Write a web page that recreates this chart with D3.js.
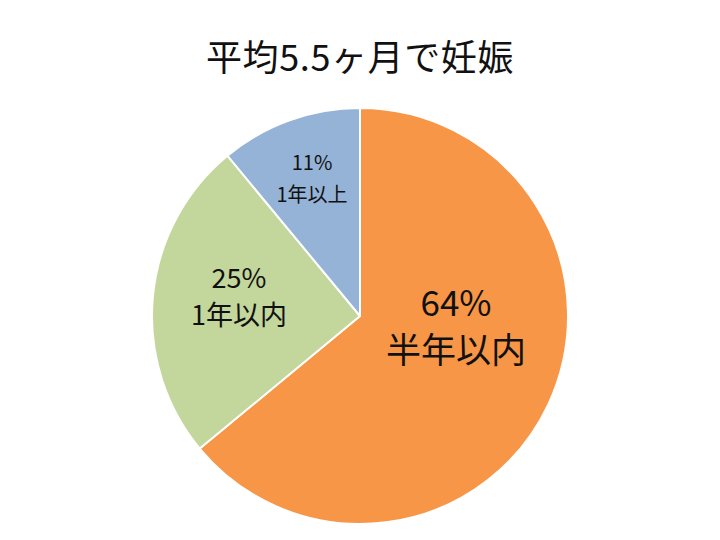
<!DOCTYPE html>
<html><head><meta charset="utf-8">
<script src="https://cdn.jsdelivr.net/npm/d3@7"></script>
<style>body{margin:0;background:#fff}svg{display:block}</style>
</head><body>
<svg id="c" width="720" height="540"></svg>
<script>
const title = "平均5.5ヶ月で妊娠";
const categories = ["半年以内", "1年以内", "1年以上"];
const values = [64, 25, 11];
const colors = ["#F79646", "#C3D69B", "#95B3D7"];

// layout (not data)
const cx = 360, cy = 316, R = 208;
const labelStyle = [
  {x: 456, y1: 316, y2: 363, fs: 35},
  {x: 239, y1: 288, y2: 325, fs: 27},
  {x: 312, y1: 170, y2: 202, fs: 20}
];
const font = "'Noto Sans CJK JP','Noto Sans',sans-serif";

const svg = d3.select("#c");
svg.append("text").attr("x", 360).attr("y", 71).attr("text-anchor", "middle")
  .attr("font-family", font).attr("font-size", 36).attr("letter-spacing", 0.6)
  .attr("fill", "#111").text(title);

const pie = d3.pie().sort(null).value(d => d)(values);
const arc = d3.arc().innerRadius(0).outerRadius(R);
const g = svg.append("g").attr("transform", `translate(${cx},${cy})`);
g.selectAll("path").data(pie).join("path")
  .attr("d", arc).attr("fill", (d, i) => colors[i])
  .attr("stroke", "#fff").attr("stroke-width", 2).attr("stroke-linejoin", "round");

pie.forEach((d, i) => {
  const s = labelStyle[i];
  svg.append("text").attr("x", s.x).attr("y", s.y1).attr("text-anchor", "middle")
    .attr("font-family", font).attr("font-size", s.fs).attr("fill", "#111")
    .text(values[i] + "%");
  svg.append("text").attr("x", s.x).attr("y", s.y2).attr("text-anchor", "middle")
    .attr("font-family", font).attr("font-size", s.fs).attr("fill", "#111")
    .text(categories[i]);
});
</script>
</body></html>
